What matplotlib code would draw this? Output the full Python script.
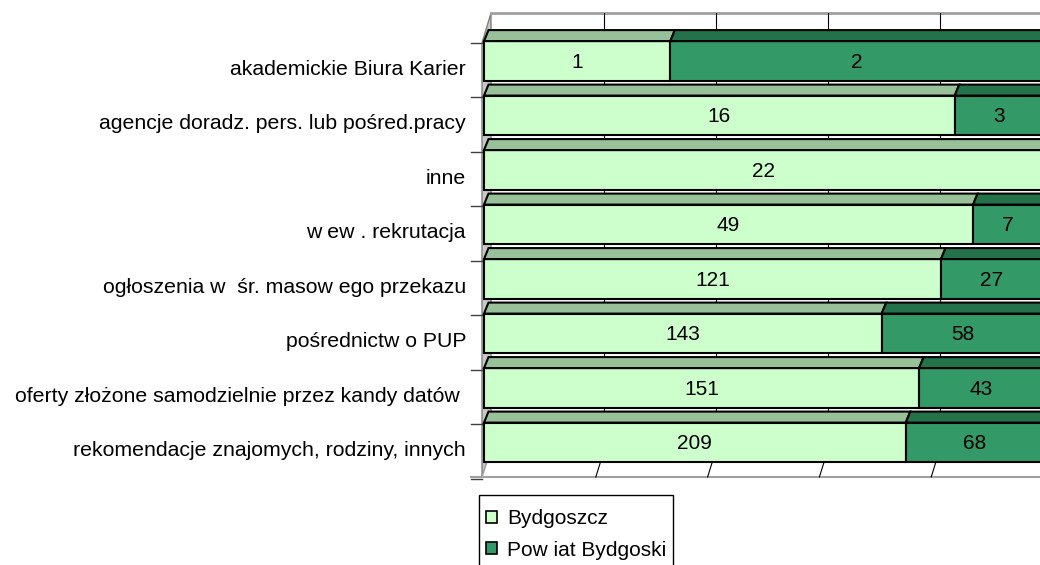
import matplotlib
matplotlib.use("Agg")
import matplotlib.pyplot as plt
from matplotlib.patches import Polygon, Patch, Rectangle

# ---- data ----
categories = [
    "akademickie Biura Karier",
    "agencje doradz. pers. lub pośred.pracy",
    "inne",
    "w ew . rekrutacja",
    "ogłoszenia w  śr. masow ego przekazu",
    "pośrednictw o PUP",
    "oferty złożone samodzielnie przez kandy datów ",
    "rekomendacje znajomych, rodziny, innych",
]
bydgoszcz = [1, 16, 22, 49, 121, 143, 151, 209]
powiat = [2, 3, 0, 7, 27, 58, 43, 68]
series_names = ["Bydgoszcz", "Pow iat Bydgoski"]
grid_ticks = [0, 20, 40, 60, 80, 100]

# ---- style ----
FONT = "Liberation Sans"
FS = 15
FS_CAT = 15.3
C_LIGHT, C_LIGHT_TOP = "#CCFFCC", "#99C199"
C_DARK, C_DARK_TOP = "#339966", "#247249"
W, H = 1040, 565
PX = 5.59      # pixels per percent
ROW = 54.5     # pixels per category row
X0, Y0 = 484, 43

def px2x(px):
    return (px - X0) / PX

def px2y(py):
    return (py - Y0) / ROW

fig = plt.figure(figsize=(W / 100, H / 100), dpi=100)
ax = fig.add_axes([0, 0, 1, 1])
ax.set_xlim(px2x(0), px2x(W))
ax.set_ylim(px2y(H), px2y(0))
ax.axis("off")

n = len(categories)
y_floor_front = px2y(477)
y_floor_back = px2y(461)
y_wall_top = px2y(13)
wall_dx = 8.5 / PX
floor_dx = 5 / PX

# left wall
ax.add_patch(Polygon([(px2x(482), y_floor_front), (px2x(482), 0),
                      (px2x(491), y_wall_top), (px2x(491), y_floor_back)],
                     closed=True, facecolor="#c8c8c8", edgecolor="#808080",
                     lw=1.0, zorder=1))
# floor
ax.add_patch(Polygon([(px2x(482), y_floor_front), (px2x(W + 10), y_floor_front),
                      (px2x(W + 10), y_floor_back), (px2x(487), y_floor_back)],
                     closed=True, facecolor="white", edgecolor="#a0a0a0",
                     lw=1.2, zorder=1))
ax.plot([px2x(471), px2x(W)], [y_floor_front, y_floor_front], color="#a0a0a0",
        lw=1.5, zorder=2)
# back wall top
ax.plot([px2x(491), px2x(W)], [y_wall_top, y_wall_top], color="#a0a0a0",
        lw=2.0, zorder=1)
# back wall gridlines
for g in grid_ticks[1:-1]:
    ax.plot([g + wall_dx, g + wall_dx], [y_wall_top, y_floor_back],
            color="black", lw=0.8, zorder=1)
# floor ticks
for g in grid_ticks[1:-1]:
    ax.plot([g, g + floor_dx], [y_floor_front, y_floor_back],
            color="black", lw=0.8, zorder=2)
# category ticks
for k in range(n + 1):
    ax.plot([px2x(471), px2x(482)], [k, k], color="#404040", lw=1.0, zorder=2)

# bars
front_top = -0.035
front_h = 0.725
top_dx = 4.5 / PX
top_dy = 11 / ROW

for i in range(n):
    total = bydgoszcz[i] + powiat[i]
    bp = bydgoszcz[i] / total * 100
    pp = powiat[i] / total * 100
    yc = i + front_top + front_h / 2
    yt = i + front_top
    segs = [(0, bp, C_LIGHT, C_LIGHT_TOP, bydgoszcz[i]),
            (bp, pp, C_DARK, C_DARK_TOP, powiat[i])]
    for left, width, cf, ct, val in segs:
        if val == 0:
            continue
        ax.barh(yc, width, left=left, height=front_h, color=cf,
                edgecolor="black", lw=1.5, zorder=3)
        ax.add_patch(Polygon([(left, yt), (left + width, yt),
                              (left + width + top_dx, yt - top_dy),
                              (left + top_dx, yt - top_dy)],
                             closed=True, facecolor=ct, edgecolor="black",
                             lw=1.5, zorder=3))
        ax.text(left + width / 2, yc + 0.03, str(val), ha="center",
                va="center", fontsize=FS, family=FONT, color="black",
                zorder=4)
    ax.text(px2x(466), i + 0.48, categories[i], ha="right", va="center",
            fontsize=FS_CAT, family=FONT, color="black")

# legend frame (extends below the figure edge as in the reference)
ax.add_patch(Rectangle((479 / W, -10 / H), (673 - 479) / W,
                       (H - 495 + 10) / H, transform=fig.transFigure,
                       facecolor="white", edgecolor="black", lw=1.0,
                       zorder=5, clip_on=False))
handles = [Patch(facecolor=C_LIGHT, edgecolor="black", lw=1.2),
           Patch(facecolor=C_DARK, edgecolor="black", lw=1.2)]
leg = ax.legend(handles, series_names, loc="upper left",
                bbox_to_anchor=(486 / W, 1 - 509 / H),
                bbox_transform=fig.transFigure, frameon=False,
                prop={"family": FONT, "size": FS}, handlelength=0.55,
                handleheight=0.5, handletextpad=0.45, borderpad=0.0,
                labelspacing=0.6, borderaxespad=0)
leg.set_zorder(10)

fig.savefig("out.png", dpi=100)
